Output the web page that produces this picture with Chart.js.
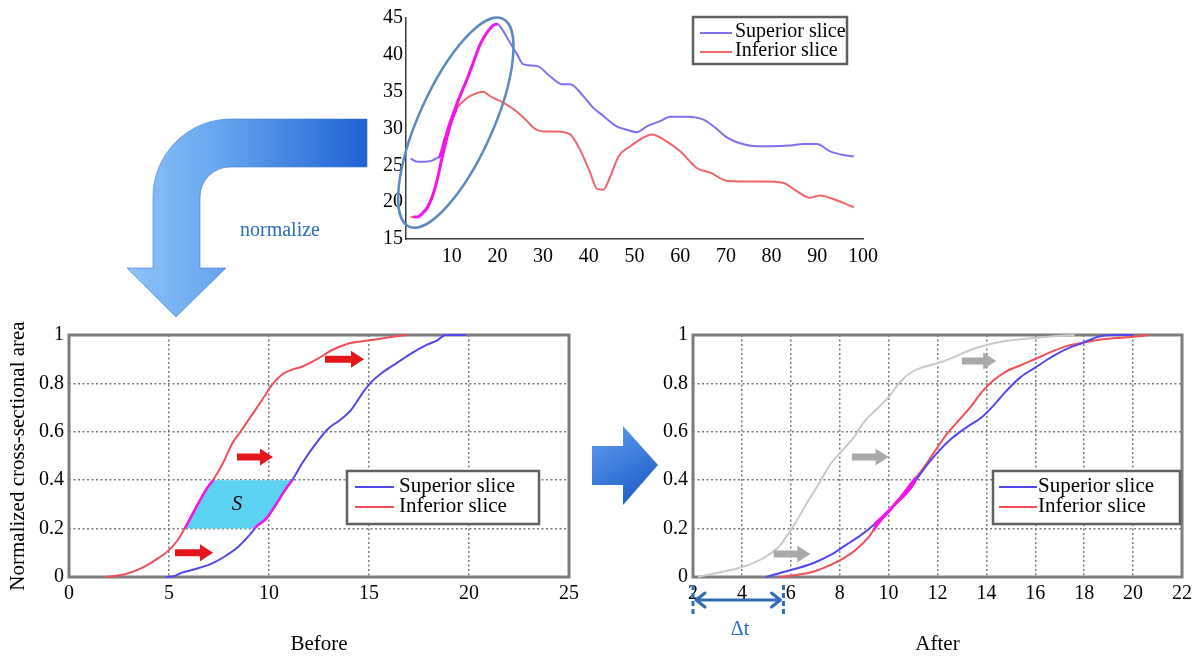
<!DOCTYPE html>
<html>
<head>
<meta charset="utf-8">
<script src="https://cdn.jsdelivr.net/npm/chart.js@4.4.1/dist/chart.umd.min.js"></script>
<style>
  html, body { margin: 0; padding: 0; background: #fff; }
  #page { position: relative; width: 1197px; height: 657px; overflow: hidden;
          font-family: "Liberation Serif", "Times New Roman", serif; }
  #page canvas { position: absolute; left: 0; top: 0; }
  .note { position: absolute; font-size: 20px; color: #2b6cc4; white-space: nowrap;
          transform: translate(-50%, -50%); }
</style>
</head>
<body>
<div id="page">
  <canvas id="decor" width="1197" height="657"></canvas>
  <canvas id="rawChart" width="1197" height="657"></canvas>
  <canvas id="beforeChart" width="1197" height="657"></canvas>
  <canvas id="afterChart" width="1197" height="657"></canvas>
  <div class="note" style="left:280px; top:229px">normalize</div>
  <div class="note" style="left:740px; top:628px">Δt</div>
</div>
<script>
// --- raw cross-sectional area per frame (top panel)
const rawSupX = [1, 2.5, 4, 5.5, 6.5, 7.5, 8.5, 9.6, 10.7, 11.8, 13.3, 14.7, 16.2, 17.7, 19.1, 20, 20.9, 22.8, 24.2, 25.7,
                 28.6, 31.5, 34.2, 35.9, 38.8, 41, 43.2, 46.1, 48.5, 50.5, 52.7, 55.6, 57.8, 61.5, 65.1, 67.3, 70.2,
                 73.1, 76.8, 79.7, 84.1, 87, 89.9, 92.8, 95.7, 98];
const rawSupY = [25.9, 25.5, 25.5, 25.6, 25.9, 26.4, 28.5, 30.7, 32.6, 34.4, 36.6, 38.9, 41.4, 43.0, 44.0, 44.2, 43.6, 41.6, 40.2, 38.7,
                 38.5, 37.1, 36.0, 36.0, 34.4, 32.8, 31.7, 30.3, 29.8, 29.5, 30.3, 31.0, 31.6, 31.6, 31.2, 30.3, 28.8,
                 28.0, 27.6, 27.6, 27.7, 27.9, 27.9, 26.9, 26.4, 26.2];
const rawInfX = [1, 2.5, 3.5, 4.8, 6, 7, 7.8, 8.7, 9.6, 10.5, 11.3, 12.5, 14, 15.5, 16.9, 18.4, 21.3, 24.2, 26.5, 27.9,
                 30.1, 33, 35.9, 38.1, 40.3, 41.8, 43.2, 44.7, 46.5, 49.1, 51.2, 53.8, 56.4, 60, 63.7, 66.6, 70.2,
                 73.9, 78.2, 82.6, 85.5, 88.4, 90.7, 93.6, 95.7, 98];
const rawInfY = [18.0, 18.0, 18.4, 19.4, 21.2, 23.5, 25.8, 28.1, 30.3, 31.9, 32.9, 33.7, 34.4, 34.8, 35.0, 34.4, 33.5, 32.3, 31.0, 30.1,
                 29.6, 29.6, 29.2, 27.1, 24.0, 21.8, 21.7, 23.5, 26.2, 27.6, 28.5, 29.2, 28.5, 26.9, 24.6, 24.0, 22.9,
                 22.8, 22.8, 22.6, 21.5, 20.6, 20.9, 20.4, 19.9, 19.3];
const rawXTicks = [10, 20, 30, 40, 50, 60, 70, 80, 90, 100];
const rawYTicks = [15, 20, 25, 30, 35, 40, 45];

// --- normalized curves before alignment
const befSupX = [4.86, 5.24, 5.62, 6.37, 7.13, 7.88, 8.45, 9.01, 9.39, 9.86, 10.33, 10.8, 11.18, 11.65, 12.22, 12.97,
                 13.54, 14.1, 14.67, 15.05, 15.61, 16.37, 17.12, 17.88, 18.44, 18.82, 19.85];
const befSupY = [0, 0.003, 0.017, 0.034, 0.055, 0.09, 0.124, 0.172, 0.21, 0.241, 0.297, 0.359, 0.403, 0.469, 0.538, 0.614,
                 0.648, 0.69, 0.759, 0.8, 0.841, 0.883, 0.924, 0.959, 0.979, 1.0, 1.0];
const befInfX = [1.85, 2.8, 3.73, 4.5, 4.96, 5.43, 5.81, 6.37, 6.84, 7.22, 7.69, 8.16, 8.63, 9.2, 9.76, 10.14, 10.61,
                 11.09, 11.65, 12.4, 13.16, 13.91, 14.67, 15.42, 16.18, 16.93];
const befInfY = [0, 0.011, 0.041, 0.08, 0.108, 0.152, 0.204, 0.29, 0.359, 0.403, 0.469, 0.552, 0.607, 0.676, 0.745, 0.793, 0.834,
                 0.855, 0.869, 0.9, 0.938, 0.963, 0.974, 0.982, 0.993, 1.0];
const beforeXTicks = [0, 5, 10, 15, 20, 25];

// --- after alignment (grey = inferior before the shift)
const aftSupX = [4.99, 5.7, 6.34, 6.98, 7.61, 8.25, 8.88, 9.36, 9.84, 10.31, 10.79, 11.11, 11.59, 12.06, 12.54, 13.18,
                 13.81, 14.29, 14.77, 15.4, 16.04, 16.67, 17.31, 17.95, 18.58, 19.06, 20];
const aftSupY = [0, 0.021, 0.038, 0.06, 0.09, 0.132, 0.174, 0.213, 0.257, 0.306, 0.354, 0.399, 0.465, 0.521, 0.569, 0.618,
                 0.66, 0.708, 0.764, 0.826, 0.868, 0.91, 0.944, 0.968, 0.993, 1, 1];
const aftInfX = [5.55, 6.34, 6.98, 7.61, 8.25, 8.72, 9.2, 9.52, 10.0, 10.47, 10.95, 11.43, 11.9, 12.38, 12.86, 13.34,
                 13.81, 14.29, 14.77, 15.4, 16.04, 16.67, 17.31, 17.95, 18.74, 19.7, 20.33, 20.65];
const aftInfY = [0, 0.01, 0.024, 0.049, 0.083, 0.118, 0.167, 0.215, 0.271, 0.326, 0.389, 0.451, 0.521, 0.59, 0.646, 0.701,
                 0.764, 0.813, 0.847, 0.875, 0.903, 0.931, 0.955, 0.968, 0.982, 0.99, 0.996, 1];
const aftOrigX = [2.2, 2.84, 3.8, 4.43, 5.07, 5.55, 5.86, 6.18, 6.66, 7.13, 7.61, 8.09, 8.57, 9.04, 9.52, 10.0, 10.47,
                  10.95, 11.43, 12.06, 12.7, 13.34, 13.97, 14.6, 15.4, 16.2, 17.0, 17.6];
const aftOrigY = [0, 0.014, 0.035, 0.056, 0.09, 0.129, 0.174, 0.222, 0.306, 0.382, 0.465, 0.521, 0.576, 0.646, 0.694, 0.743,
                  0.806, 0.847, 0.868, 0.885, 0.91, 0.938, 0.958, 0.972, 0.982, 0.99, 0.997, 1];
const afterXTicks = [2, 4, 6, 8, 10, 12, 14, 16, 18, 20, 22];
const normYTicks = [0, 0.2, 0.4, 0.6, 0.8, 1];

const SERIF = '"Liberation Serif", "Times New Roman", serif';
const MAGENTA = '#f514ea';

Chart.defaults.font.family = SERIF;
Chart.defaults.font.size = 20;
Chart.defaults.color = '#000';
Chart.defaults.animation = false;

function pts(xs, ys) {
  return xs.map((x, i) => ({ x: x, y: ys[i] }));
}

function fixedTicks(values) {
  return function(scale) { scale.ticks = values.map(v => ({ value: v })); };
}

const plainLabel = v => String(v);

function curve(label, xs, ys, color) {
  return {
    label: label, data: pts(xs, ys), borderColor: color, backgroundColor: color,
    borderWidth: 2, pointRadius: 0, cubicInterpolationMode: 'monotone', fill: false, clip: 4
  };
}

function blockArrow(ctx, x0, x1, y, color) {
  const sh = 3.5, hh = 8.5, hl = 13;
  ctx.save();
  ctx.fillStyle = color;
  ctx.beginPath();
  ctx.moveTo(x0, y - sh);
  ctx.lineTo(x1 - hl, y - sh);
  ctx.lineTo(x1 - hl, y - hh);
  ctx.lineTo(x1, y);
  ctx.lineTo(x1 - hl, y + hh);
  ctx.lineTo(x1 - hl, y + sh);
  ctx.lineTo(x0, y + sh);
  ctx.closePath();
  ctx.fill();
  ctx.restore();
}

// box around the plot area (MATLAB style)
const framePlugin = {
  id: 'frame',
  beforeDatasetsDraw(chart, args, opts) {
    const a = chart.chartArea, ctx = chart.ctx;
    ctx.save();
    ctx.strokeStyle = opts.color;
    ctx.lineWidth = opts.width;
    ctx.strokeRect(a.left, a.top, a.right - a.left, a.bottom - a.top);
    ctx.restore();
  }
};

// shaded area S and magenta overlays of the highlighted parts
const bandPlugin = {
  id: 'band',
  beforeDatasetsDraw(chart, args, opts) {
    if (!opts.fill) return;
    const ctx = chart.ctx, a = chart.chartArea, ys = chart.scales.y;
    const top = ys.getPixelForValue(opts.fill.to), bot = ys.getPixelForValue(opts.fill.from);
    const p = chart.getDatasetMeta(opts.fill.between[0]).data;
    const q = chart.getDatasetMeta(opts.fill.between[1]).data;
    ctx.save();
    ctx.beginPath();
    ctx.rect(a.left, top, a.right - a.left, bot - top);
    ctx.clip();
    ctx.beginPath();
    p.forEach((pt, i) => i ? ctx.lineTo(pt.x, pt.y) : ctx.moveTo(pt.x, pt.y));
    for (let i = q.length - 1; i >= 0; i--) ctx.lineTo(q[i].x, q[i].y);
    ctx.closePath();
    ctx.fillStyle = opts.fill.color;
    ctx.fill();
    ctx.restore();
  },
  afterDatasetsDraw(chart, args, opts) {
    const ctx = chart.ctx;
    (opts.marks || []).forEach(m => {
      const meta = chart.getDatasetMeta(m.index);
      const sc = chart.scales[m.axis];
      const p0 = sc.getPixelForValue(m.from), p1 = sc.getPixelForValue(m.to);
      ctx.save();
      ctx.beginPath();
      if (m.axis === 'x') ctx.rect(p0, 0, p1 - p0, chart.height);
      else ctx.rect(0, p1, chart.width, p0 - p1);
      ctx.clip();
      ctx.beginPath();
      meta.dataset.path(ctx);
      ctx.strokeStyle = MAGENTA;
      ctx.lineWidth = opts.width || 3;
      ctx.lineCap = 'round';
      ctx.lineJoin = 'round';
      ctx.stroke();
      ctx.restore();
    });
  }
};

// little block arrows showing the shift
const shiftPlugin = {
  id: 'shifts',
  afterDatasetsDraw(chart, args, opts) {
    const xs = chart.scales.x, ys = chart.scales.y;
    opts.items.forEach(it => blockArrow(chart.ctx, xs.getPixelForValue(it.x0), xs.getPixelForValue(it.x1),
                                        ys.getPixelForValue(it.y), opts.color));
  }
};

// legend in a framed box at a fixed spot
const boxLegendPlugin = {
  id: 'boxLegend',
  afterDraw(chart, args, o) {
    const ctx = chart.ctx, b = o.box;
    ctx.save();
    ctx.fillStyle = '#fff';
    ctx.fillRect(b[0], b[1], b[2] - b[0], b[3] - b[1]);
    ctx.strokeStyle = '#606060';
    ctx.lineWidth = 2.5;
    ctx.strokeRect(b[0], b[1], b[2] - b[0], b[3] - b[1]);
    ctx.font = o.fontSize + 'px ' + SERIF;
    ctx.textBaseline = 'middle';
    ctx.fillStyle = '#000';
    o.entries.forEach((di, k) => {
      const ds = chart.data.datasets[di], y = o.rows[k];
      ctx.strokeStyle = ds.borderColor;
      ctx.lineWidth = 2;
      ctx.beginPath();
      ctx.moveTo(o.sample[0], y + 1);
      ctx.lineTo(o.sample[1], y + 1);
      ctx.stroke();
      ctx.fillText(ds.label, o.textX, y);
    });
    ctx.restore();
  }
};

// ellipse around the rising part of the raw curves
const ellipsePlugin = {
  id: 'ring',
  afterDraw(chart, args, o) {
    const ctx = chart.ctx;
    const cx = chart.scales.x.getPixelForValue(o.x), cy = chart.scales.y.getPixelForValue(o.y);
    ctx.save();
    ctx.strokeStyle = o.color;
    ctx.lineWidth = 2.5;
    ctx.beginPath();
    ctx.ellipse(cx, cy, o.rx, o.ry, o.angle * Math.PI / 180, 0, Math.PI * 2);
    ctx.stroke();
    ctx.restore();
  }
};

// Δt double arrow under the x axis
const deltaPlugin = {
  id: 'delta',
  afterDraw(chart, args, o) {
    const ctx = chart.ctx, xs = chart.scales.x;
    const x0 = xs.getPixelForValue(o.from), x1 = xs.getPixelForValue(o.to), y = o.y;
    ctx.save();
    ctx.strokeStyle = o.color;
    ctx.lineWidth = 3;
    ctx.setLineDash([5, 3]);
    ctx.beginPath();
    ctx.moveTo(x0, y - 15); ctx.lineTo(x0, y + 15);
    ctx.moveTo(x1, y - 15); ctx.lineTo(x1, y + 15);
    ctx.stroke();
    ctx.setLineDash([]);
    ctx.lineCap = 'round';
    ctx.lineJoin = 'round';
    ctx.beginPath();
    ctx.moveTo(x0 + 3, y); ctx.lineTo(x1 - 3, y);
    ctx.moveTo(x0 + 12, y - 7); ctx.lineTo(x0 + 3, y); ctx.lineTo(x0 + 12, y + 7);
    ctx.moveTo(x1 - 12, y - 7); ctx.lineTo(x1 - 3, y); ctx.lineTo(x1 - 12, y + 7);
    ctx.stroke();
    ctx.restore();
  }
};

function normScales(xMin, xMax, xTicks, xTitle, yWidth, yTitle) {
  const grid = { color: '#7a7a7a', lineWidth: 1.5, drawTicks: false };
  return {
    x: {
      type: 'linear', min: xMin, max: xMax, afterBuildTicks: fixedTicks(xTicks),
      afterFit: s => { s.height = 80; },
      grid: grid, border: { display: false, dash: [2, 2.5] },
      ticks: { padding: 5, maxRotation: 0, font: { size: 20 }, callback: plainLabel },
      title: { display: true, text: xTitle, font: { size: 21 }, padding: { top: 0, bottom: 0 } }
    },
    y: {
      type: 'linear', min: 0, max: 1, afterBuildTicks: fixedTicks(normYTicks),
      afterFit: s => { s.width = yWidth; },
      grid: grid, border: { display: false, dash: [2, 2.5] },
      ticks: { padding: 5, font: { size: 20 }, callback: plainLabel },
      title: { display: !!yTitle, text: yTitle || '', font: { size: 21 }, padding: { top: 6, bottom: 0 } }
    }
  };
}

const baseOpts = {
  responsive: false,
  devicePixelRatio: 1,
  animation: false,
  events: []
};

// top panel: raw areas
new Chart(document.getElementById('rawChart'), {
  type: 'line',
  data: {
    datasets: [
      curve('Superior slice', rawSupX, rawSupY, '#7d70f0'),
      curve('Inferior slice', rawInfX, rawInfY, '#f26468')
    ]
  },
  options: Object.assign({}, baseOpts, {
    layout: { autoPadding: false, padding: { left: 361, top: 18, right: 334, bottom: 388 } },
    scales: {
      x: {
        type: 'linear', min: 0, max: 100, afterBuildTicks: fixedTicks(rawXTicks),
        afterFit: s => { s.height = 30; },
        grid: { display: false, drawTicks: false },
        border: { display: true, color: '#3a3a3a', width: 1.5 },
        ticks: { padding: 6, maxRotation: 0, callback: plainLabel }
      },
      y: {
        type: 'linear', min: 15, max: 45, afterBuildTicks: fixedTicks(rawYTicks),
        afterFit: s => { s.width = 45; },
        grid: { display: false, drawTicks: false },
        border: { display: true, color: '#3a3a3a', width: 1.5 },
        ticks: { padding: 3, callback: plainLabel }
      }
    },
    plugins: {
      legend: { display: false },
      tooltip: { enabled: false },
      band: { width: 3, marks: [{ index: 0, axis: 'x', from: 7.2, to: 20 }, { index: 1, axis: 'x', from: 1.6, to: 11.2 }] },
      boxLegend: { box: [693, 17, 847, 64], sample: [700, 732], textX: 735, rows: [32, 51], entries: [0, 1], fontSize: 20 },
      ring: { x: 10.9, y: 30.8, rx: 114, ry: 37, angle: -65.8, color: '#5a8bbf' }
    }
  }),
  plugins: [bandPlugin, boxLegendPlugin, ellipsePlugin]
});

// bottom left: before
new Chart(document.getElementById('beforeChart'), {
  type: 'line',
  data: {
    datasets: [
      curve('Superior slice', befSupX, befSupY, '#5247ee'),
      curve('Inferior slice', befInfX, befInfY, '#f24f59')
    ]
  },
  options: Object.assign({}, baseOpts, {
    layout: { autoPadding: false, padding: { left: 0, top: 335, right: 628, bottom: 0 } },
    scales: normScales(0, 25, beforeXTicks, 'Before', 69, 'Normalized cross-sectional area'),
    plugins: {
      legend: { display: false },
      tooltip: { enabled: false },
      frame: { color: '#7c7c7c', width: 3 },
      band: {
        fill: { between: [1, 0], from: 0.2, to: 0.4, color: '#5cd2f3' },
        width: 2.5,
        marks: [{ index: 0, axis: 'y', from: 0.2, to: 0.4 }, { index: 1, axis: 'y', from: 0.2, to: 0.4 }]
      },
      shifts: { color: '#e3161b', items: [{ x0: 12.8, x1: 14.75, y: 0.9 }, { x0: 8.4, x1: 10.2, y: 0.496 }, { x0: 5.3, x1: 7.2, y: 0.1 }] },
      boxLegend: { box: [347, 471, 539, 524], sample: [355, 394], textX: 399, rows: [486, 506], entries: [0, 1], fontSize: 21 }
    }
  }),
  plugins: [framePlugin, bandPlugin, shiftPlugin, boxLegendPlugin, {
    id: 'sLabel',
    afterDatasetsDraw(chart) {
      const ctx = chart.ctx;
      ctx.save();
      ctx.font = 'italic 21px ' + SERIF;
      ctx.fillStyle = '#000';
      ctx.textAlign = 'center';
      ctx.textBaseline = 'middle';
      ctx.fillText('S', chart.scales.x.getPixelForValue(8.4), chart.scales.y.getPixelForValue(0.3));
      ctx.restore();
    }
  }]
});

// bottom right: after
new Chart(document.getElementById('afterChart'), {
  type: 'line',
  data: {
    datasets: [
      curve('Superior slice', aftSupX, aftSupY, '#5247ee'),
      curve('Inferior slice', aftInfX, aftInfY, '#f24f59'),
      curve('Inferior slice (before)', aftOrigX, aftOrigY, '#c9c9c9')
    ]
  },
  options: Object.assign({}, baseOpts, {
    layout: { autoPadding: false, padding: { left: 653, top: 335, right: 11, bottom: 0 } },
    scales: normScales(2, 22, afterXTicks, 'After', 40, ''),
    plugins: {
      legend: { display: false },
      tooltip: { enabled: false },
      frame: { color: '#7c7c7c', width: 3 },
      band: { width: 3, marks: [{ index: 0, axis: 'x', from: 9.4, to: 11.1 }, { index: 1, axis: 'x', from: 9.4, to: 11.1 }] },
      shifts: { color: '#a9a9a9', items: [{ x0: 13.0, x1: 14.4, y: 0.893 }, { x0: 8.5, x1: 10.0, y: 0.496 }, { x0: 5.3, x1: 6.8, y: 0.095 }] },
      boxLegend: { box: [993, 471, 1180, 524], sample: [999, 1037], textX: 1038, rows: [486, 506], entries: [0, 1], fontSize: 21 },
      delta: { from: 2, to: 5.7, y: 600, color: '#2f6db6' }
    }
  }),
  plugins: [framePlugin, bandPlugin, shiftPlugin, boxLegendPlugin, deltaPlugin]
});

// decorative arrows between the panels
(function drawDecor() {
  const ctx = document.getElementById('decor').getContext('2d');

  let g = ctx.createLinearGradient(127, 0, 367, 0);
  g.addColorStop(0, '#8ec3f8');
  g.addColorStop(0.35, '#6aa8f1');
  g.addColorStop(1, '#1f63d3');
  ctx.beginPath();
  ctx.moveTo(367, 119);
  ctx.lineTo(231, 119);
  ctx.arcTo(153, 119, 153, 197, 78);
  ctx.lineTo(153, 268);
  ctx.lineTo(127, 268);
  ctx.lineTo(176, 317);
  ctx.lineTo(226, 268);
  ctx.lineTo(200, 268);
  ctx.lineTo(200, 197);
  ctx.arcTo(200, 167, 231, 167, 30);
  ctx.lineTo(367, 167);
  ctx.closePath();
  ctx.fillStyle = g;
  ctx.fill();
  ctx.strokeStyle = 'rgba(60,125,215,0.6)';
  ctx.lineWidth = 1;
  ctx.stroke();

  g = ctx.createLinearGradient(592, 426, 640, 505);
  g.addColorStop(0, '#61a0f0');
  g.addColorStop(1, '#1c5cc6');
  ctx.beginPath();
  ctx.moveTo(592, 446);
  ctx.lineTo(623, 446);
  ctx.lineTo(623, 426);
  ctx.lineTo(658, 465);
  ctx.lineTo(623, 505);
  ctx.lineTo(623, 485);
  ctx.lineTo(592, 485);
  ctx.closePath();
  ctx.fillStyle = g;
  ctx.fill();
})();
</script>
</body>
</html>
